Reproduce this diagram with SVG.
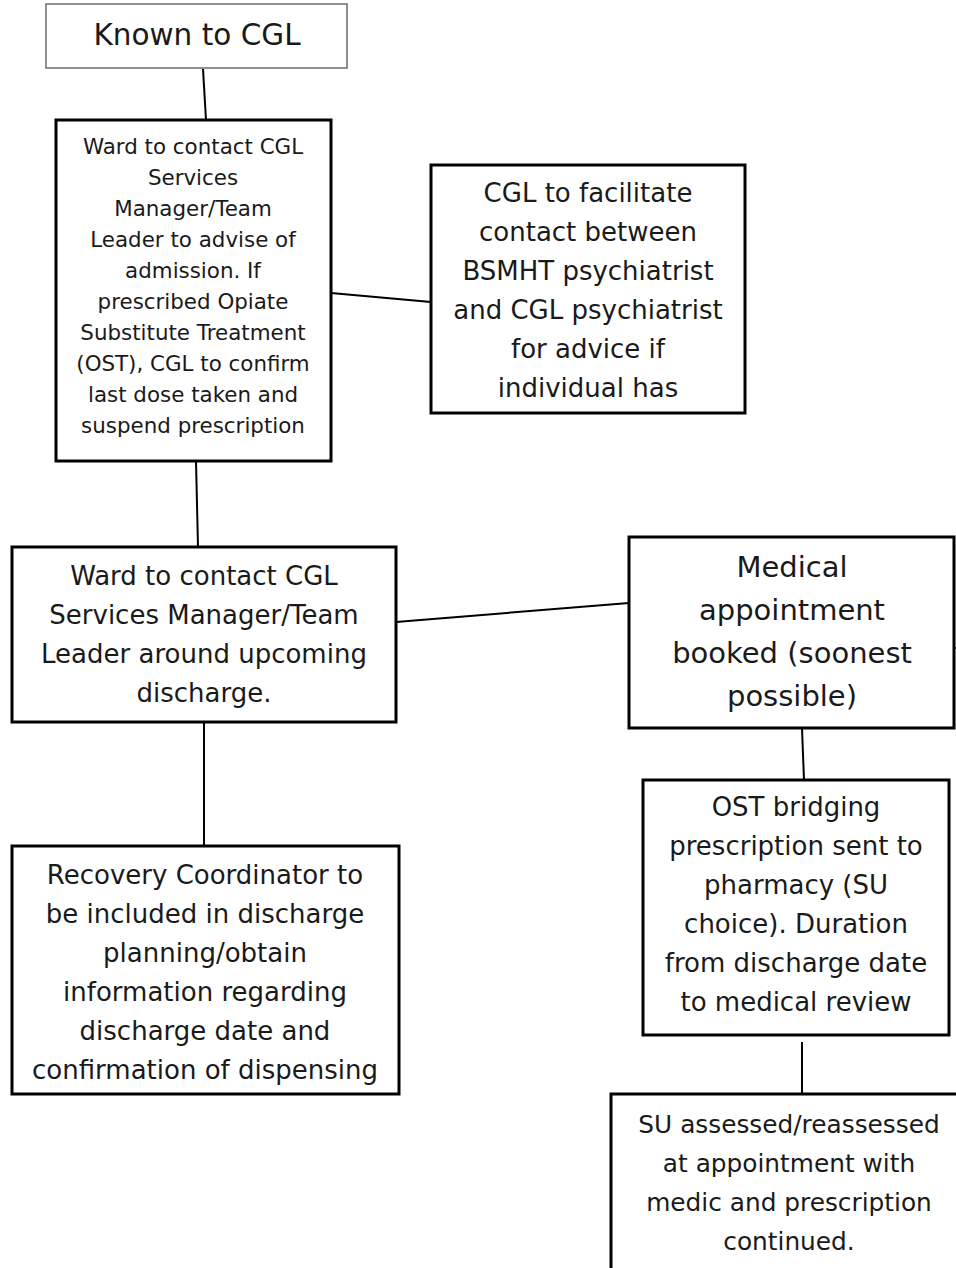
<svg xmlns="http://www.w3.org/2000/svg" width="956" height="1268" viewBox="0 0 956 1268">
<style>
.box{fill:#fff;stroke:#000;stroke-width:3}
.thin{fill:#fff;stroke:#6b6b6b;stroke-width:1.5}
.con{stroke:#000;stroke-width:2;fill:none}
text{font-family:"DejaVu Sans","Liberation Sans",sans-serif;fill:#1a1a1a;text-anchor:middle}
.t26{font-size:26px}
.t25{font-size:24.8px}
.t20{font-size:21.4px}
.t28{font-size:29px}
.t29{font-size:29.5px}
</style>
<defs>
<clipPath id="clip2"><rect x="56" y="120" width="275" height="332"/></clipPath>
</defs>
<rect width="956" height="1268" fill="#fff"/>
<g id="connectors">
<line class="con" x1="203" y1="69" x2="206" y2="120"/>
<line class="con" x1="331" y1="293" x2="431" y2="302"/>
<line class="con" x1="196" y1="461" x2="198" y2="547"/>
<line class="con" x1="396" y1="622" x2="629" y2="603"/>
<line class="con" x1="204" y1="722" x2="204" y2="846"/>
<line class="con" x1="802" y1="728" x2="804" y2="780"/>
<line class="con" x1="802" y1="1042" x2="802" y2="1094"/>
<line class="con" x1="954" y1="648" x2="958" y2="648"/>
</g>
<g id="n1">
<rect class="thin" x="46" y="4" width="301" height="64"/>
<text class="t29" x="197" y="45">Known to CGL</text>
</g>
<g id="n2">
<rect class="box" x="56" y="120" width="275" height="341"/>
<g clip-path="url(#clip2)">
<text class="t20" x="193" y="154">Ward to contact CGL</text>
<text class="t20" x="193" y="185">Services</text>
<text class="t20" x="193" y="216">Manager/Team</text>
<text class="t20" x="193" y="247">Leader to advise of</text>
<text class="t20" x="193" y="278">admission. If</text>
<text class="t20" x="193" y="309">prescribed Opiate</text>
<text class="t20" x="193" y="340">Substitute Treatment</text>
<text class="t20" x="193" y="371">(OST), CGL to confirm</text>
<text class="t20" x="193" y="402">last dose taken and</text>
<text class="t20" x="193" y="433">suspend prescription</text>
</g>
</g>
<g id="n3">
<rect class="box" x="431" y="165" width="314" height="248"/>
<text class="t26" x="588" y="202">CGL to facilitate</text>
<text class="t26" x="588" y="241">contact between</text>
<text class="t26" x="588" y="280">BSMHT psychiatrist</text>
<text class="t26" x="588" y="319">and CGL psychiatrist</text>
<text class="t26" x="588" y="358">for advice if</text>
<text class="t26" x="588" y="397">individual has</text>
</g>
<g id="n4">
<rect class="box" x="12" y="547" width="384" height="175"/>
<text class="t26" x="204" y="585">Ward to contact CGL</text>
<text class="t26" x="204" y="624">Services Manager/Team</text>
<text class="t26" x="204" y="663">Leader around upcoming</text>
<text class="t26" x="204" y="702">discharge.</text>
</g>
<g id="n5">
<rect class="box" x="629" y="537" width="325" height="191"/>
<text class="t28" x="792" y="577">Medical</text>
<text class="t28" x="792" y="620">appointment</text>
<text class="t28" x="792" y="663">booked (soonest</text>
<text class="t28" x="792" y="706">possible)</text>
</g>
<g id="n6">
<rect class="box" x="643" y="780" width="306" height="255"/>
<text class="t26" x="796" y="816">OST bridging</text>
<text class="t26" x="796" y="855">prescription sent to</text>
<text class="t26" x="796" y="894">pharmacy (SU</text>
<text class="t26" x="796" y="933">choice). Duration</text>
<text class="t26" x="796" y="972">from discharge date</text>
<text class="t26" x="796" y="1011">to medical review</text>
</g>
<g id="n7">
<rect class="box" x="611" y="1094" width="360" height="190"/>
<text class="t25" x="789" y="1133">SU assessed/reassessed</text>
<text class="t25" x="789" y="1172">at appointment with</text>
<text class="t25" x="789" y="1211">medic and prescription</text>
<text class="t25" x="789" y="1250">continued.</text>
</g>
<g id="n8">
<rect class="box" x="12" y="846" width="387" height="248"/>
<text class="t26" x="205" y="884">Recovery Coordinator to</text>
<text class="t26" x="205" y="923">be included in discharge</text>
<text class="t26" x="205" y="962">planning/obtain</text>
<text class="t26" x="205" y="1001">information regarding</text>
<text class="t26" x="205" y="1040">discharge date and</text>
<text class="t26" x="205" y="1079">confirmation of dispensing</text>
</g>
</svg>
